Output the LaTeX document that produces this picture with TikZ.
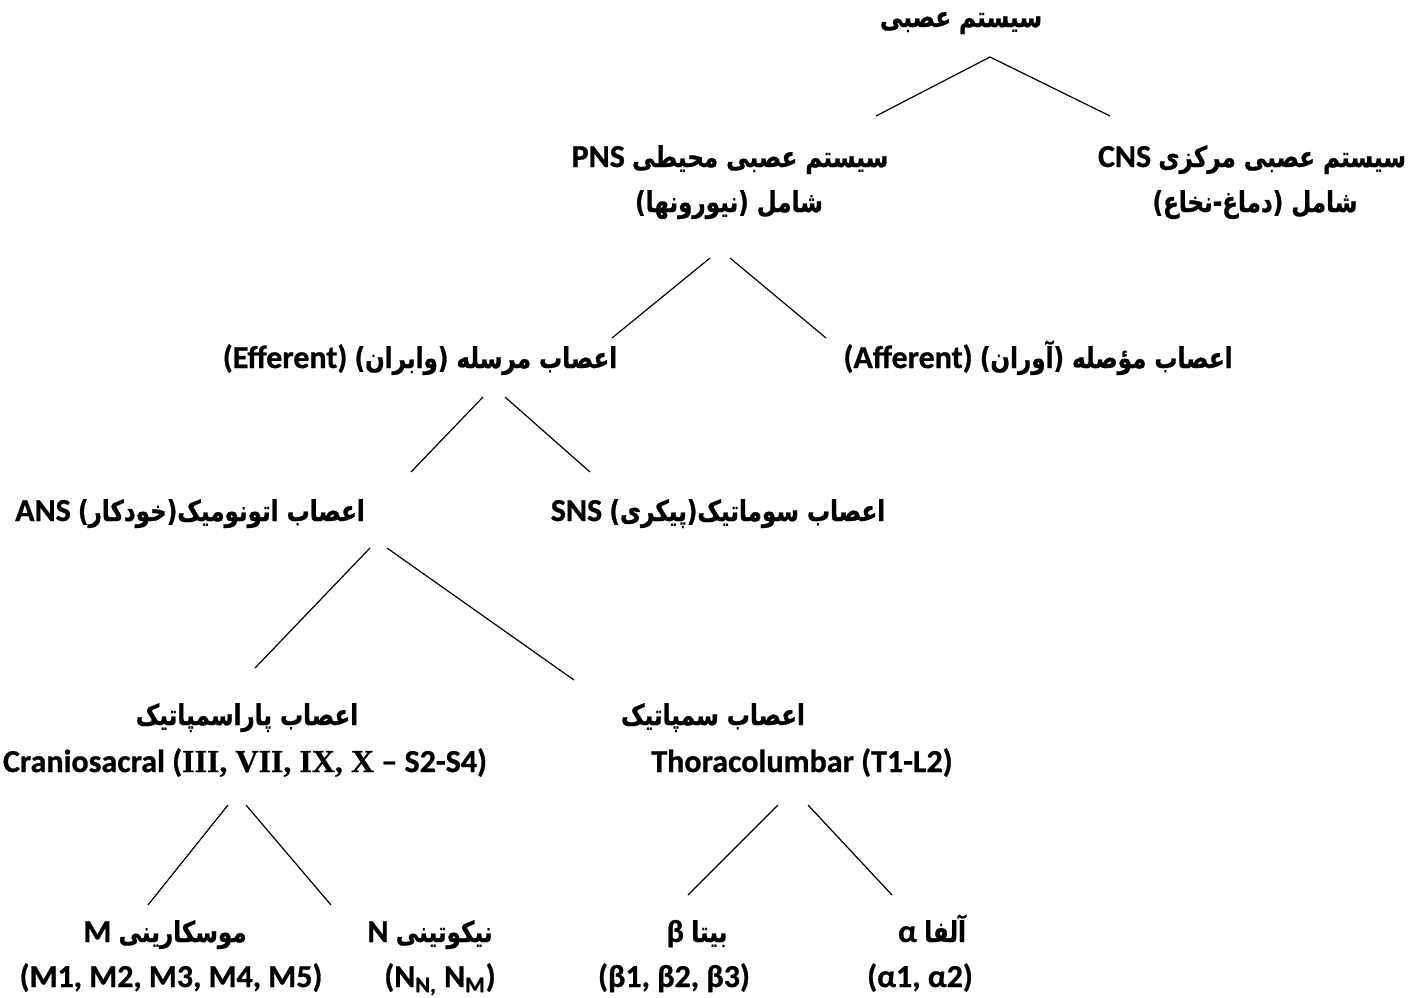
\documentclass[tikz,border=0pt]{standalone}
\usepackage{fontspec}
\setmainfont{Carlito}[BoldFont={Carlito Bold}, BoldFeatures={FakeBold=0.8}]
\newfontfamily\fa[Script=Arabic, Scale=0.9, FakeStretch=0.8, BoldFeatures={FakeBold=0.8}]{DejaVu Sans}
\newfontfamily\tnr[BoldFeatures={FakeBold=0.5}]{Liberation Serif}
\TeXXeTstate=1
\tikzset{
  txt/.style={font=\bfseries\fontsize{16}{19}\selectfont, inner sep=0pt, anchor=base},
  link/.style={line width=0.6pt, black}
}
\begin{document}
\begin{tikzpicture}[x=0.5pt,y=-0.5pt]
\useasboundingbox (0,0) rectangle (1419,997);
% texts
\node[txt] (root) at (961,27) {\beginR{\fa سیستم عصبی}\endR};
\node[txt] (pns1) at (730,167) {\beginR{\fa سیستم عصبی محیطی} \beginL PNS\endL\endR};
\node[txt] (pns2) at (729,212) {\beginR{\fa شامل (نیورونها)}\endR};
\node[txt] (cns1) at (1252,167) {\beginR{\fa سیستم عصبی مرکزی} \beginL CNS\endL\endR};
\node[txt] (cns2) at (1255,212) {\beginR{\fa شامل (دماغ-نخاع)}\endR};
\node[txt] (eff) at (420,368) {\beginR{\fa اعصاب مرسله (وابران)} \beginL(Efferent)\endL\endR};
\node[txt] (aff) at (1038,368) {\beginR{\fa اعصاب مؤصله (آوران)} \beginL(Afferent)\endL\endR};
\node[txt] (ans) at (190,521) {\beginR{\fa اعصاب اتونومیک(خودکار)} \beginL ANS\endL\endR};
\node[txt] (sns) at (718,521) {\beginR{\fa اعصاب سوماتیک(پیکری)} \beginL SNS\endL\endR};
\node[txt] (para1) at (247,725) {\beginR{\fa اعصاب پاراسمپاتیک}\endR};
\node[txt] (para2) at (245,772) {Craniosacral ({\tnr III, VII, IX, X} – S2-S4)};
\node[txt] (sym1) at (713,725) {\beginR{\fa اعصاب سمپاتیک}\endR};
\node[txt] (sym2) at (802,772) {Thoracolumbar (T1-L2)};
\node[txt] (m1) at (165,942) {\beginR{\fa موسکارینی} \beginL M\endL\endR};
\node[txt] (m2) at (171,987) {(M1, M2, M3, M4, M5)};
\node[txt] (n1) at (430,942) {\beginR{\fa نیکوتینی} \beginL N\endL\endR};
\node[txt] (n2) at (440,987) {(N\textsubscript{N,} N\textsubscript{M})};
\node[txt] (b1) at (697,942) {\beginR{\fa بیتا} \beginL β\endL\endR};
\node[txt] (b2) at (674,987) {(β1, β2, β3)};
\node[txt] (a1) at (932,942) {\beginR{\fa آلفا} \beginL α\endL\endR};
\node[txt] (a2) at (920,987) {(α1, α2)};
% connector ends
\coordinate (rootL) at (990,57);   \coordinate (pnsT) at (876,116);
\coordinate (rootR) at (990,57);   \coordinate (cnsT) at (1110,116);
\coordinate (pnsL) at (710,258);   \coordinate (effT) at (612,338);
\coordinate (pnsR) at (730,258);   \coordinate (affT) at (826,338);
\coordinate (effL) at (483,397);   \coordinate (ansT) at (411,472);
\coordinate (effR) at (505,397);   \coordinate (snsT) at (590,472);
\coordinate (ansL) at (370,548);   \coordinate (paraT) at (255,668);
\coordinate (ansR) at (387,548);   \coordinate (symT) at (574,680);
\coordinate (paraL) at (228,805);  \coordinate (mT) at (148,905);
\coordinate (paraR) at (246,805);  \coordinate (nT) at (331,905);
\coordinate (symL) at (778,805);   \coordinate (bT) at (688,895);
\coordinate (symR) at (808,805);   \coordinate (aT) at (892,895);
\draw[link] (rootL) -- (pnsT);
\draw[link] (rootR) -- (cnsT);
\draw[link] (pnsL) -- (effT);
\draw[link] (pnsR) -- (affT);
\draw[link] (effL) -- (ansT);
\draw[link] (effR) -- (snsT);
\draw[link] (ansL) -- (paraT);
\draw[link] (ansR) -- (symT);
\draw[link] (paraL) -- (mT);
\draw[link] (paraR) -- (nT);
\draw[link] (symL) -- (bT);
\draw[link] (symR) -- (aT);
\end{tikzpicture}
\end{document}
